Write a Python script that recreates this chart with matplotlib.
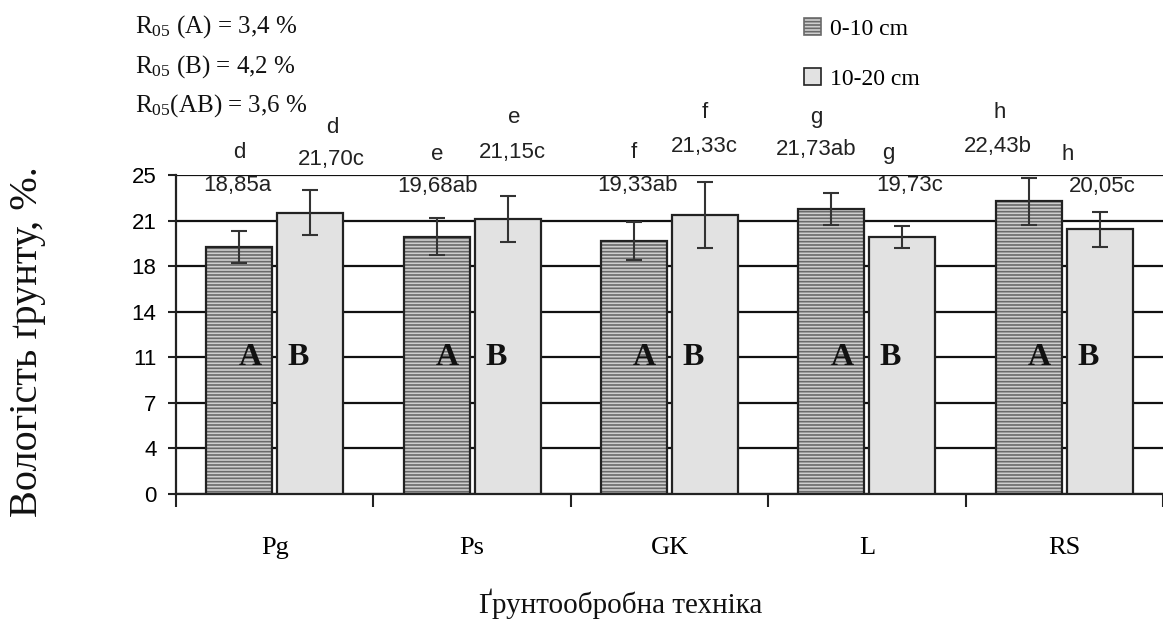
import numpy as np
import matplotlib
matplotlib.use("Agg")
import matplotlib.pyplot as plt
from matplotlib.patches import Patch

# ---- data ----
categories = ["Pg", "Ps", "GK", "L", "RS"]
series_names = ["0-10 cm", "10-20 cm"]
# bar heights as drawn in the picture
vals_0_10 = [19.36, 20.17, 19.83, 22.32, 22.94]
vals_10_20 = [22.05, 21.53, 21.86, 20.14, 20.74]
err_0_10 = [1.28, 1.43, 1.48, 1.26, 1.83]
err_10_20 = [1.75, 1.80, 2.58, 0.88, 1.35]
# printed labels
labels_0_10 = ["18,85a", "19,68ab", "19,33ab", "21,73ab", "22,43b"]
labels_10_20 = ["21,70c", "21,15c", "21,33c", "19,73c", "20,05c"]
letters = ["d", "e", "f", "g", "h"]
ytick_labels = ["0", "4", "7", "11", "14", "18", "21", "25"]
r05_lines = [r"R$_{05}$ (A) = 3,4 %", r"R$_{05}$ (B) = 4,2 %", r"R$_{05}$(AB) = 3,6 %"]
ylabel = "Вологість ґрунту, %."
xlabel = "Ґрунтообробна техніка"

# ---- label placement (category units / data units) ----
lab_dx_a = [-0.187, -0.177, -0.162, -0.258, -0.338]
let_dx_a = [-0.177, -0.177, -0.180, -0.258, -0.328]
lab_dx_b = [0.286, 0.202, 0.177, 0.217, 0.192]
let_dx_b = [0.293, 0.212, 0.177, 0.106, 0.015]
lab_y_a = [24.2, 24.06, 24.2, 26.96, 27.2]
let_y_a = [26.8, 26.57, 26.8, 29.5, 29.86]
lab_y_b = [26.2, 26.8, 27.2, 24.2, 24.06]
let_y_b = [28.7, 29.5, 29.86, 26.7, 26.57]

W, H = 1163, 627
plt.rcParams["mathtext.fontset"] = "custom"
plt.rcParams["mathtext.rm"] = "Liberation Serif"
plt.rcParams["mathtext.it"] = "Liberation Serif:italic"
plt.rcParams["hatch.linewidth"] = 1.2

fig = plt.figure(figsize=(W / 100, H / 100), dpi=100)
fig.patch.set_facecolor("white")
ax = fig.add_axes([176 / W, 1 - 494 / H, (W - 176) / W, (494 - 175) / H])

x = np.arange(len(categories))
bw = 0.335
off = 0.18
colA_face = "#cfcfcf"
colA_hatch = "#6a6a6a"
colB_face = "#e2e2e2"
edge = "#222222"

# A bars: hatched fill then outline
ax.bar(x - off, vals_0_10, bw, color=colA_face, edgecolor=colA_hatch, hatch="-----",
       linewidth=0, zorder=2)
ax.bar(x - off, vals_0_10, bw, facecolor="none", edgecolor=edge, linewidth=1.6, zorder=3)
ax.bar(x + off, vals_10_20, bw, color=colB_face, edgecolor=edge, linewidth=1.6, zorder=3)

ax.errorbar(x - off, vals_0_10, yerr=err_0_10, fmt="none", ecolor="#333333",
            elinewidth=1.5, capsize=6, capthick=1.5, zorder=4)
ax.errorbar(x + off, vals_10_20, yerr=err_10_20, fmt="none", ecolor="#333333",
            elinewidth=1.5, capsize=6, capthick=1.5, zorder=4)

ax.set_xlim(-0.5, -0.5 + (W - 176) / 198)
ax.set_ylim(0, 25)
yt = np.arange(len(ytick_labels)) * 25 / 7
ax.set_yticks(yt)
ax.set_yticklabels(ytick_labels, fontfamily="Liberation Sans", fontsize=16)
ax.yaxis.grid(True, color="#111111", linewidth=1.6, zorder=0)
ax.set_axisbelow(True)
ax.tick_params(axis="y", direction="out", length=6, width=1.5, pad=8, color="#222222")

ax.set_xticks(np.arange(-0.5, len(categories), 1))
ax.set_xticklabels([])
ax.tick_params(axis="x", which="major", direction="out", length=9, width=1.5, color="#222222")
ax.set_xticks(x, minor=True)
ax.set_xticklabels(categories, minor=True, fontfamily="Liberation Serif", fontsize=19)
ax.tick_params(axis="x", which="minor", length=0, pad=31)

for s in ["top", "right"]:
    ax.spines[s].set_visible(False)
for s in ["left", "bottom"]:
    ax.spines[s].set_linewidth(1.6)
    ax.spines[s].set_color("#222222")

# value labels and letters
for i in range(len(categories)):
    ax.text(i + lab_dx_a[i], lab_y_a[i], labels_0_10[i], ha="center", va="center",
            fontfamily="Liberation Sans", fontsize=16, color="#222222")
    ax.text(i + let_dx_a[i], let_y_a[i], letters[i], ha="center", va="center",
            fontfamily="Liberation Sans", fontsize=16, color="#222222")
    ax.text(i + lab_dx_b[i], lab_y_b[i], labels_10_20[i], ha="center", va="center",
            fontfamily="Liberation Sans", fontsize=16, color="#222222")
    ax.text(i + let_dx_b[i], let_y_b[i], letters[i], ha="center", va="center",
            fontfamily="Liberation Sans", fontsize=16, color="#222222")
    ax.text(i - 0.126, 10.7, "A", ha="center", va="center", fontfamily="Liberation Serif",
            fontweight="bold", fontsize=23, color="#111111", zorder=5)
    ax.text(i + 0.12, 10.7, "B", ha="center", va="center", fontfamily="Liberation Serif",
            fontweight="bold", fontsize=23, color="#111111", zorder=5)

# R05 annotations
for k, (txt, yp) in enumerate(zip(r05_lines, [27, 67, 106])):
    fig.text(135 / W, 1 - yp / H, txt, ha="left", va="center",
             fontfamily="Liberation Serif", fontsize=18, color="#111111")

# legend
handles = [Patch(facecolor=colA_face, edgecolor=colA_hatch, hatch="-----", linewidth=1.2),
           Patch(facecolor=colB_face, edgecolor=edge, linewidth=1.2)]
leg = fig.legend(handles, series_names, loc="upper left",
                 bbox_to_anchor=(795 / W, 1 - 9 / H), frameon=False,
                 prop={"family": "Liberation Serif", "size": 17},
                 handlelength=0.7, handleheight=0.7, handletextpad=0.4,
                 labelspacing=1.2, borderaxespad=0)

fig.text(28 / W, 1 - 342 / H, ylabel, rotation=90, ha="center", va="center",
         fontfamily="Liberation Serif", fontsize=29, color="#111111")
fig.text(621 / W, 1 - 604 / H, xlabel, ha="center", va="center",
         fontfamily="Liberation Serif", fontsize=21, color="#111111")

fig.savefig("out.png", dpi=100, facecolor="white")
